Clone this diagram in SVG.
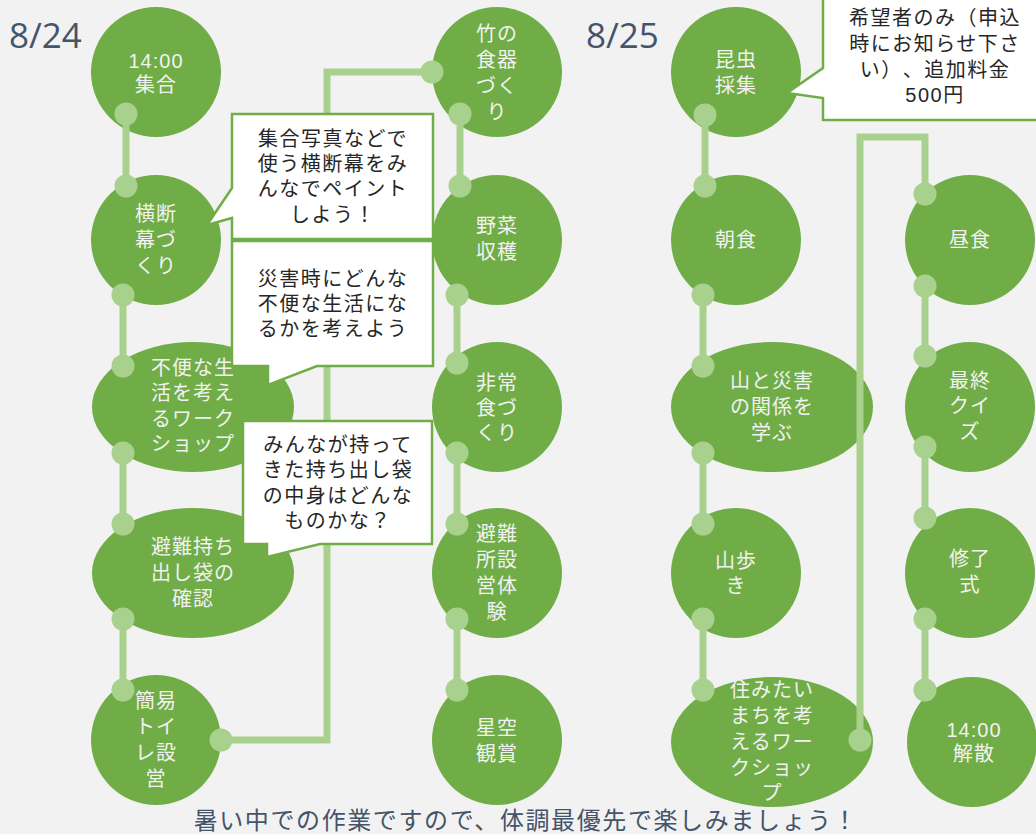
<svg xmlns="http://www.w3.org/2000/svg" width="1036" height="834" viewBox="0 0 1036 834">
<style>
.bg{fill:#F2F2F2}
.node{fill:#70AD47}
.nt{font-family:"Liberation Sans","Noto Sans CJK JP",sans-serif;font-size:20px;fill:#F2F2F2;text-anchor:middle;letter-spacing:1px}
.ln{fill:none;stroke:#A9D18E;stroke-width:7}
.dot{fill:#A9D18E}
.co{fill:#FFFFFF;stroke:#70AD47;stroke-width:2.5}
.ct{font-family:"Liberation Sans","Noto Sans CJK JP",sans-serif;font-size:20px;fill:#262626;text-anchor:middle;letter-spacing:1.5px;text-spacing-trim:space-all}
.title{font-family:"Open Sans","Liberation Sans",sans-serif;font-size:35px;fill:#44546A}
.foot{font-family:"Noto Sans CJK JP",sans-serif;font-size:24px;fill:#44546A;text-anchor:middle;letter-spacing:1.6px}
</style>
<rect class="bg" x="0" y="0" width="1036" height="834"/>
<text class="title" x="9" y="48">8/24</text>
<text class="title" x="586" y="48">8/25</text>

<g id="n-shugo"><circle class="node" cx="156" cy="72" r="65"/><text class="nt"><tspan x="156" y="68">14:00</tspan><tspan x="156" y="92">集合</tspan></text></g>
<g id="n-oudanmaku"><circle class="node" cx="156" cy="240" r="65"/><text class="nt"><tspan x="156" y="221">横断</tspan><tspan x="156" y="247">幕づ</tspan><tspan x="156" y="273">くり</tspan></text></g>
<g id="n-fuben"><ellipse class="node" cx="193" cy="407" rx="101" ry="65"/><text class="nt"><tspan x="193" y="375">不便な生</tspan><tspan x="193" y="400">活を考え</tspan><tspan x="193" y="426">るワーク</tspan><tspan x="193" y="451">ショップ</tspan></text></g>
<g id="n-mochidashi"><ellipse class="node" cx="193" cy="573" rx="101" ry="65"/><text class="nt"><tspan x="193" y="554">避難持ち</tspan><tspan x="193" y="580">出し袋の</tspan><tspan x="193" y="606">確認</tspan></text></g>
<g id="n-toilet"><circle class="node" cx="156" cy="740" r="65"/><text class="nt"><tspan x="156" y="708">簡易</tspan><tspan x="156" y="734">トイ</tspan><tspan x="156" y="760">レ設</tspan><tspan x="156" y="786">営</tspan></text></g>

<g id="n-take"><circle class="node" cx="497" cy="72" r="65"/><text class="nt"><tspan x="497" y="41">竹の</tspan><tspan x="497" y="67">食器</tspan><tspan x="497" y="93">づく</tspan><tspan x="497" y="119">り</tspan></text></g>
<g id="n-yasai"><circle class="node" cx="497" cy="240" r="65"/><text class="nt"><tspan x="497" y="233">野菜</tspan><tspan x="497" y="259">収穫</tspan></text></g>
<g id="n-hijoushoku"><circle class="node" cx="497" cy="407" r="65"/><text class="nt"><tspan x="497" y="390">非常</tspan><tspan x="497" y="415">食づ</tspan><tspan x="497" y="440">くり</tspan></text></g>
<g id="n-hinanjo"><circle class="node" cx="497" cy="573" r="65"/><text class="nt"><tspan x="497" y="541">避難</tspan><tspan x="497" y="567">所設</tspan><tspan x="497" y="593">営体</tspan><tspan x="497" y="619">験</tspan></text></g>
<g id="n-hoshizora"><circle class="node" cx="497" cy="740" r="65"/><text class="nt"><tspan x="497" y="735">星空</tspan><tspan x="497" y="761">観賞</tspan></text></g>

<g id="n-konchu"><circle class="node" cx="736" cy="72" r="65"/><text class="nt"><tspan x="736" y="67">昆虫</tspan><tspan x="736" y="93">採集</tspan></text></g>
<g id="n-choshoku"><circle class="node" cx="736" cy="240" r="65"/><text class="nt" x="736" y="247">朝食</text></g>
<g id="n-yama"><ellipse class="node" cx="772" cy="407" rx="101" ry="65"/><text class="nt"><tspan x="772" y="388">山と災害</tspan><tspan x="772" y="414">の関係を</tspan><tspan x="772" y="440">学ぶ</tspan></text></g>
<g id="n-yamaaruki"><circle class="node" cx="736" cy="573" r="65"/><text class="nt"><tspan x="736" y="568">山歩</tspan><tspan x="736" y="593">き</tspan></text></g>
<g id="n-machi"><ellipse class="node" cx="772" cy="742" rx="101" ry="65"/><text class="nt"><tspan x="772" y="697">住みたい</tspan><tspan x="772" y="723">まちを考</tspan><tspan x="772" y="749">えるワー</tspan><tspan x="772" y="775">クショッ</tspan><tspan x="772" y="800">プ</tspan></text></g>

<g id="n-chushoku"><circle class="node" cx="970" cy="240" r="65"/><text class="nt" x="970" y="247">昼食</text></g>
<g id="n-quiz"><circle class="node" cx="970" cy="407" r="65"/><text class="nt"><tspan x="970" y="388">最終</tspan><tspan x="970" y="413">クイ</tspan><tspan x="970" y="439">ズ</tspan></text></g>
<g id="n-shuryo"><circle class="node" cx="970" cy="573" r="65"/><text class="nt"><tspan x="970" y="566">修了</tspan><tspan x="970" y="592">式</tspan></text></g>
<g id="n-kaisan"><circle class="node" cx="972" cy="742" r="65"/><text class="nt"><tspan x="974" y="737">14:00</tspan><tspan x="974" y="761">解散</tspan></text></g>

<g id="connectors">
<path class="ln" d="M126,114V186M123,295V366M123,453V524M123,619V690M221,740H327V72H432"/>
<path class="ln" d="M460,114V186M457,295V363M457,453V524M457,619V690"/>
<path class="ln" d="M705,115V186M703,295V366M703,453V524M703,619V690M860,740V137H925V194"/>
<path class="ln" d="M925,286V356M925,447V518M925,619V690"/>
<g class="dot">
<circle cx="126" cy="114" r="11.5"/><circle cx="126" cy="186" r="11.5"/>
<circle cx="123" cy="295" r="11.5"/><circle cx="123" cy="366" r="11.5"/>
<circle cx="123" cy="453" r="11.5"/><circle cx="123" cy="524" r="11.5"/>
<circle cx="123" cy="619" r="11.5"/><circle cx="123" cy="690" r="11.5"/>
<circle cx="221" cy="740" r="11.5"/><circle cx="432" cy="72" r="11.5"/>
<circle cx="460" cy="114" r="11.5"/><circle cx="460" cy="186" r="11.5"/>
<circle cx="457" cy="295" r="11.5"/><circle cx="457" cy="363" r="11.5"/>
<circle cx="457" cy="453" r="11.5"/><circle cx="457" cy="524" r="11.5"/>
<circle cx="457" cy="619" r="11.5"/><circle cx="457" cy="690" r="11.5"/>
<circle cx="705" cy="115" r="11.5"/><circle cx="705" cy="186" r="11.5"/>
<circle cx="703" cy="295" r="11.5"/><circle cx="703" cy="366" r="11.5"/>
<circle cx="703" cy="453" r="11.5"/><circle cx="703" cy="524" r="11.5"/>
<circle cx="703" cy="619" r="11.5"/><circle cx="703" cy="690" r="11.5"/>
<circle cx="860" cy="740" r="11.5"/><circle cx="925" cy="194" r="11.5"/>
<circle cx="925" cy="286" r="11.5"/><circle cx="925" cy="356" r="11.5"/>
<circle cx="925" cy="447" r="11.5"/><circle cx="925" cy="518" r="11.5"/>
<circle cx="925" cy="619" r="11.5"/><circle cx="925" cy="690" r="11.5"/>
</g>
</g>

<g id="callout-1"><path class="co" d="M232,114H433V239H232V218L207,225L232,188Z"/><text class="ct"><tspan x="333" y="146">集合写真などで</tspan><tspan x="333" y="171">使う横断幕をみ</tspan><tspan x="333" y="196">んなでペイント</tspan><tspan x="333" y="222">しよう！</tspan></text></g>
<g id="callout-2"><path class="co" d="M232,241H433V366H317L268,385V366H232Z"/><text class="ct"><tspan x="333" y="286">災害時にどんな</tspan><tspan x="333" y="311">不便な生活にな</tspan><tspan x="333" y="336">るかを考えよう</tspan></text></g>
<g id="callout-3"><path class="co" d="M243,421H432V544H320L267,557V544H243Z"/><text class="ct"><tspan x="338" y="452">みんなが持って</tspan><tspan x="338" y="477">きた持ち出し袋</tspan><tspan x="338" y="503">の中身はどんな</tspan><tspan x="338" y="528">ものかな？</tspan></text></g>
<g id="callout-4"><path class="co" d="M823,-5H1045V120H823V98L787,93L823,68Z"/><text class="ct"><tspan x="935" y="25">希望者のみ（申込</tspan><tspan x="935" y="51">時にお知らせ下さ</tspan><tspan x="935" y="77">い）、追加料金</tspan><tspan x="935" y="102">500円</tspan></text></g>

<text class="foot" x="526" y="829">暑い中での作業ですので、体調最優先で楽しみましょう！</text>
</svg>
